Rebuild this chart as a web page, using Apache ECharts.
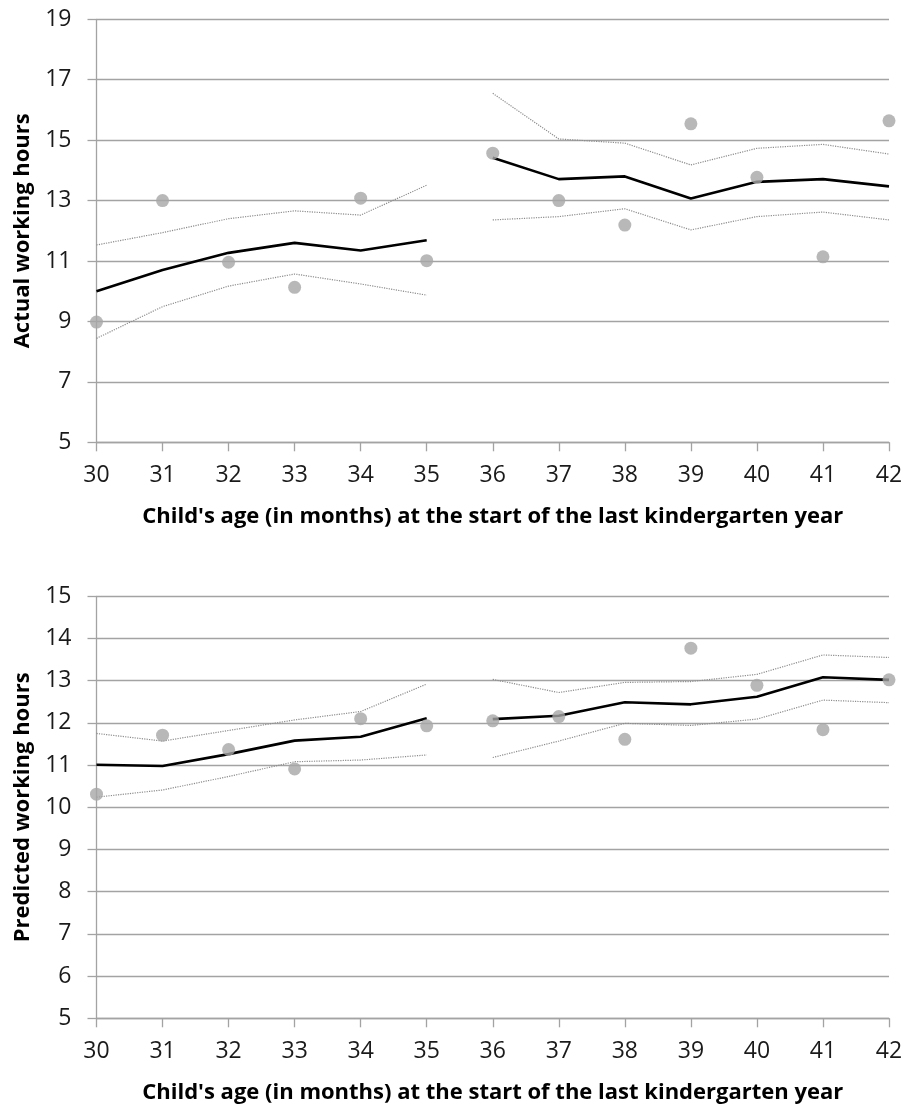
<!DOCTYPE html>
<html>
<head>
<meta charset="utf-8">
<script src="https://cdn.jsdelivr.net/npm/echarts@6/dist/echarts.min.js"></script>
<style>
html,body{margin:0;padding:0;background:#fff;}
#chart{width:907px;height:1109px;}
</style>
</head>
<body>
<div id="chart"></div>
<script>
// Child's age in months
const ages = [30,31,32,33,34,35,36,37,38,39,40,41,42];

// Top panel: actual working hours
const actualFit   = [10.0,10.7,11.27,11.6,11.35,11.69, 14.42,13.71,13.8,13.07,13.62,13.71,13.47];
const actualUpper = [11.53,11.94,12.4,12.66,12.52,13.51, 16.55,15.04,14.9,14.18,14.73,14.86,14.54];
const actualLower = [8.44,9.49,10.17,10.57,10.24,9.87, 12.36,12.47,12.73,12.03,12.47,12.62,12.36];
const actualMeans = [8.98,13.0,10.96,10.13,13.08,11.01, 14.57,13.0,12.19,15.54,13.77,11.14,15.64];

// Bottom panel: predicted working hours
const predFit   = [11.01,10.98,11.26,11.58,11.67,12.11, 12.09,12.17,12.49,12.44,12.62,13.08,13.02];
const predUpper = [11.75,11.57,11.82,12.07,12.27,12.92, 13.03,12.72,12.96,12.98,13.15,13.61,13.55];
const predLower = [10.24,10.41,10.73,11.08,11.12,11.24, 11.18,11.57,11.99,11.94,12.09,12.54,12.48];
const predMeans = [10.31,11.71,11.37,10.91,12.1,11.93, 12.05,12.15,11.61,13.77,12.89,11.84,13.02];

// Cutoff: segments left of 36 and from 36 on
const cutoff = 36;
const xTitle = "Child's age (in months) at the start of the last kindergarten year";
const yTitles = ['Actual working hours', 'Predicted working hours'];

function pairs(vals, side) {
  const out = [];
  ages.forEach((a, i) => {
    if ((side === 'L' && a < cutoff) || (side === 'R' && a >= cutoff)) out.push([a, vals[i]]);
  });
  return out;
}
function allPairs(vals) { return ages.map((a, i) => [a, vals[i]]); }

const FONT = '"Open Sans"';
const gridColor = '#a3a3a3';

function makeSeries(idx, fit, upper, lower, means) {
  const s = [];
  ['L','R'].forEach(side => {
    s.push({type:'line', xAxisIndex:idx, yAxisIndex:idx, data:pairs(upper, side), showSymbol:false, silent:true,
      lineStyle:{color:'#8c8c8c', width:1.2, type:'dotted'}, z:3});
    s.push({type:'line', xAxisIndex:idx, yAxisIndex:idx, data:pairs(lower, side), showSymbol:false, silent:true,
      lineStyle:{color:'#8c8c8c', width:1.2, type:'dotted'}, z:3});
    s.push({type:'line', xAxisIndex:idx, yAxisIndex:idx, data:pairs(fit, side), showSymbol:false, silent:true,
      lineStyle:{color:'#000000', width:2.6}, z:4});
  });
  s.push({type:'scatter', xAxisIndex:idx, yAxisIndex:idx, data:allPairs(means), symbol:'circle', symbolSize:13,
    itemStyle:{color:'#a6a6a6'}, z:5, silent:true});
  return s;
}

function xAxis(idx) {
  return {
    type:'value', gridIndex:idx, min:30, max:42, interval:1,
    axisLine:{show:true, lineStyle:{color:gridColor, width:1.3}},
    axisTick:{show:true, length:9, lineStyle:{color:gridColor, width:1.3}},
    axisLabel:{fontFamily:FONT, fontSize:23, color:'#1a1a1a', margin:22},
    splitLine:{show:false},
    name:xTitle, nameLocation:'middle', nameGap:63,
    nameTextStyle:{fontFamily:FONT, fontWeight:'bold', fontSize:22, color:'#000'}
  };
}
function yAxis(idx, min, max, interval) {
  return {
    type:'value', gridIndex:idx, min:min, max:max, interval:interval,
    axisLine:{show:true, lineStyle:{color:gridColor, width:1.3}},
    axisTick:{show:true, length:9, lineStyle:{color:gridColor, width:1.3}},
    axisLabel:{fontFamily:FONT, fontSize:23, color:'#1a1a1a', margin:25},
    splitLine:{show:true, lineStyle:{color:gridColor, width:1.3}},
    name:yTitles[idx], nameLocation:'middle', nameGap:63,
    nameTextStyle:{fontFamily:FONT, fontWeight:'bold', fontSize:22, color:'#000'}
  };
}

const chart = echarts.init(document.getElementById('chart'), null, {renderer:'canvas'});
chart.setOption({
  animation:false,
  backgroundColor:'#ffffff',
  grid:[
    {left:96.5, right:18, top:19.3, height:423},
    {left:96.5, right:18, top:596.3, height:422}
  ],
  xAxis:[xAxis(0), xAxis(1)],
  yAxis:[yAxis(0,5,19,2), yAxis(1,5,15,1)],
  series:[].concat(
    makeSeries(0, actualFit, actualUpper, actualLower, actualMeans),
    makeSeries(1, predFit, predUpper, predLower, predMeans)
  )
});
</script>
</body>
</html>
